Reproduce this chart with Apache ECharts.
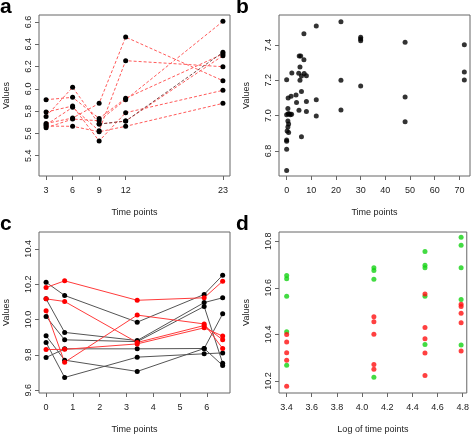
<!DOCTYPE html>
<html>
<head>
<meta charset="utf-8">
<script src="https://cdn.jsdelivr.net/npm/echarts@6/dist/echarts.min.js"></script>
<style>html,body{margin:0;padding:0;background:#fff}#c{width:472px;height:436px}</style>
</head>
<body>
<div id="c"></div>
<script>
// ---------- Panel a ----------
const aTimes = [3, 6, 9, 12, 23];
const aXTicks = [3, 6, 9, 12, 23];
const aYTicks = [5.4, 5.6, 5.8, 6.0, 6.2, 6.4, 6.6];
const aLine1 = [5.903, 5.924, 5.735, 5.915, 6.313];
const aLine2 = [5.792, 5.846, 5.532, 5.786, 5.987];
const aLine3 = [5.753, 6.014, 5.684, 5.711, 6.298];
const aLine4 = [5.690, 5.738, 5.870, 6.465, 6.073];
const aLine5 = [5.678, 5.834, 5.624, 6.253, 6.199];
const aLine6 = [5.666, 5.664, 5.615, 5.664, 5.870];
const aLine7 = [5.651, 5.729, 5.714, 5.903, 6.606];
const aLine8 = [null, null, 5.684, 5.711, 6.328];

// ---------- Panel b ----------
const bX = [0, 0, 0, 0, 0.2, 0.8, 0.5, 0.8, 0.5, 0, 0.6, 1, 1.5, 2, 0.5, 0.6, 0, 1.8, 2.1, 3.8, 4, 5, 4.9, 5.1, 5.7, 5.4, 5.4, 6, 6, 6, 7, 7, 7.1, 8, 8, 8, 12, 12, 12, 22, 22, 22, 30, 30, 30, 30, 48, 48, 48, 72, 72, 72];
const bY = [6.689, 6.809, 6.855, 6.862, 6.913, 6.904, 6.935, 6.952, 6.970, 7.005, 7.010, 7.010, 7.005, 7.008, 7.040, 7.100, 7.203, 7.110, 7.241, 7.117, 7.075, 7.030, 7.240, 7.338, 7.338, 7.275, 7.200, 7.224, 7.136, 6.880, 7.317, 7.464, 7.238, 7.226, 7.080, 7.023, 7.508, 7.090, 6.998, 7.532, 7.200, 7.032, 7.444, 7.434, 7.424, 7.168, 7.415, 7.105, 6.965, 7.402, 7.247, 7.202];
const bXTicks = [0, 10, 20, 30, 40, 50, 60, 70];
const bYTicks = [6.8, 7.0, 7.2, 7.4];

// ---------- Panel c ----------
const cTimes = [0, 0.693, 3.401, 5.9, 6.59];
const cXTicks = [0, 1, 2, 3, 4, 5, 6];
const cYTicks = [9.6, 9.8, 10.0, 10.2, 10.4];
const cBlack1 = [10.211, 10.136, 9.985, 10.142, 10.251];
const cBlack2 = [10.117, 9.927, 9.881, 10.096, 10.123];
const cBlack3 = [10.017, 9.885, 9.875, 10.074, 9.753];
const cBlack4 = [9.908, 9.770, 9.706, 9.836, 10.032];
const cBlack5 = [9.870, 9.672, 9.787, 9.806, 9.811];
const cBlack6 = [9.785, 9.834, 9.834, 9.836, 9.740];
const cRed1 = [10.181, 10.219, 10.109, 10.123, 10.217];
const cRed2 = [10.117, 10.102, 9.870, 9.966, 9.885];
const cRed3 = [10.049, 9.758, 10.025, 9.975, 9.836];
const cRed4 = [9.830, 9.831, 9.862, 9.953, 9.906];

// ---------- Panel d ----------
const dGreenX = [3.401, 3.401, 3.401, 3.401, 3.401, 4.094, 4.094, 4.094, 4.094, 4.5, 4.5, 4.5, 4.5, 4.5, 4.787, 4.787, 4.787, 4.787, 4.787];
const dGreenY = [10.653, 10.639, 10.564, 10.411, 10.267, 10.686, 10.674, 10.637, 10.216, 10.756, 10.697, 10.686, 10.564, 10.356, 10.817, 10.783, 10.686, 10.550, 10.354];
const dRedX = [3.401, 3.401, 3.401, 3.401, 3.401, 4.094, 4.094, 4.094, 4.094, 4.094, 4.5, 4.5, 4.5, 4.5, 4.5, 4.787, 4.787, 4.787, 4.787, 4.787];
const dRedY = [10.399, 10.367, 10.321, 10.289, 10.177, 10.476, 10.454, 10.401, 10.271, 10.250, 10.574, 10.429, 10.381, 10.320, 10.223, 10.529, 10.520, 10.491, 10.450, 10.329];
const dXTicks = [3.4, 3.6, 3.8, 4.0, 4.2, 4.4, 4.6, 4.8];
const dYTicks = [10.2, 10.4, 10.6, 10.8];

const FONT = '"Liberation Sans", Arial, Helvetica, sans-serif';
const TXT = '#222';
const BOX = '#666';

function zip(xs, ys) {
  const out = [];
  for (let i = 0; i < xs.length; i++) if (ys[i] !== null) out.push([xs[i], ys[i]]);
  return out;
}
function xAxis(gi, min, max, ticks, dec, name) {
  return {
    type: 'value', gridIndex: gi, min: min, max: max,
    axisLine: { show: false, onZero: false }, splitLine: { show: false }, minorTick: { show: false },
    axisTick: { show: true, inside: false, length: 4, customValues: ticks, lineStyle: { color: BOX } },
    axisLabel: { customValues: ticks, formatter: v => v.toFixed(dec), fontSize: 9, fontFamily: FONT, color: TXT, margin: 10 },
    name: name, nameLocation: 'middle', nameGap: 32,
    nameTextStyle: { fontSize: 9, fontFamily: FONT, color: TXT }
  };
}
function yAxis(gi, min, max, ticks, dec) {
  return {
    type: 'value', gridIndex: gi, min: min, max: max,
    axisLine: { show: false, onZero: false }, splitLine: { show: false }, minorTick: { show: false },
    axisTick: { show: true, inside: false, length: 4, customValues: ticks, lineStyle: { color: BOX } },
    axisLabel: { customValues: ticks, formatter: v => v.toFixed(dec), fontSize: 9, fontFamily: FONT, color: TXT, margin: 6, rotate: 90 },
    name: 'Values', nameLocation: 'middle', nameGap: 28, nameRotate: 90,
    nameTextStyle: { fontSize: 9, fontFamily: FONT, color: TXT }
  };
}
function dashedLine(ys, color) {
  return {
    type: 'line', xAxisIndex: 0, yAxisIndex: 0, data: zip(aTimes, ys),
    symbol: 'circle', symbolSize: 5, showAllSymbol: true,
    itemStyle: { color: '#000' },
    lineStyle: { color: color, width: 1, type: [3, 2] }
  };
}
function solidLine(ys, lineColor, ptColor) {
  return {
    type: 'line', xAxisIndex: 2, yAxisIndex: 2, data: zip(cTimes, ys),
    symbol: 'circle', symbolSize: 5, showAllSymbol: true,
    itemStyle: { color: ptColor },
    lineStyle: { color: lineColor, width: 1 }
  };
}
function scatter(gi, xs, ys, color) {
  return {
    type: 'scatter', xAxisIndex: gi, yAxisIndex: gi, data: zip(xs, ys),
    symbol: 'circle', symbolSize: 5, itemStyle: { color: color }
  };
}

const chart = echarts.init(document.getElementById('c'), null, { renderer: 'canvas' });
const gridStyle = { show: true, borderColor: BOX, borderWidth: 1, backgroundColor: 'transparent' };
chart.setOption({
  animation: false,
  backgroundColor: '#fff',
  grid: [
    Object.assign({ left: 39, top: 15, width: 191, height: 161 }, gridStyle),
    Object.assign({ left: 279, top: 15, width: 191, height: 161 }, gridStyle),
    Object.assign({ left: 39, top: 232, width: 191, height: 161 }, gridStyle),
    Object.assign({ left: 279, top: 232, width: 191, height: 161 }, gridStyle)
  ],
  xAxis: [
    xAxis(0, 2.2, 23.8, aXTicks, 0, 'Time points'),
    xAxis(1, -3.1, 74.3, bXTicks, 0, 'Time points'),
    xAxis(2, -0.264, 6.864, cXTicks, 0, 'Time points'),
    xAxis(3, 3.34, 4.832, dXTicks, 1, 'Log of time points')
  ],
  yAxis: [
    yAxis(0, 5.218, 6.663, aYTicks, 1),
    yAxis(1, 6.658, 7.570, bYTicks, 1),
    yAxis(2, 9.584, 10.4955, cYTicks, 1),
    yAxis(3, 10.148, 10.84, dYTicks, 1)
  ],
  graphic: [
    { type: 'text', left: 0, top: -3, style: { text: 'a', font: 'bold 21px ' + FONT, fill: '#000' } },
    { type: 'text', left: 236, top: -3, style: { text: 'b', font: 'bold 21px ' + FONT, fill: '#000' } },
    { type: 'text', left: 0, top: 214, style: { text: 'c', font: 'bold 21px ' + FONT, fill: '#000' } },
    { type: 'text', left: 236, top: 214, style: { text: 'd', font: 'bold 21px ' + FONT, fill: '#000' } }
  ],
  series: [
    dashedLine(aLine1, '#ff5a5a'),
    dashedLine(aLine2, '#ff5a5a'),
    dashedLine(aLine3, '#ff5a5a'),
    dashedLine(aLine4, '#ff5a5a'),
    dashedLine(aLine5, '#ff5a5a'),
    dashedLine(aLine6, '#ff5a5a'),
    dashedLine(aLine7, '#ff5a5a'),
    dashedLine(aLine8, '#7a4a4a'),
    scatter(1, bX, bY, '#000'),
    solidLine(cBlack1, '#555', '#000'),
    solidLine(cBlack2, '#555', '#000'),
    solidLine(cBlack3, '#555', '#000'),
    solidLine(cBlack4, '#555', '#000'),
    solidLine(cBlack5, '#555', '#000'),
    solidLine(cBlack6, '#555', '#000'),
    solidLine(cRed1, '#ff3b3b', '#ff0000'),
    solidLine(cRed2, '#ff3b3b', '#ff0000'),
    solidLine(cRed3, '#ff3b3b', '#ff0000'),
    solidLine(cRed4, '#ff3b3b', '#ff0000'),
    scatter(3, dGreenX, dGreenY, '#14d214'),
    scatter(3, dRedX, dRedY, '#ff1010')
  ]
});
</script>
</body>
</html>
